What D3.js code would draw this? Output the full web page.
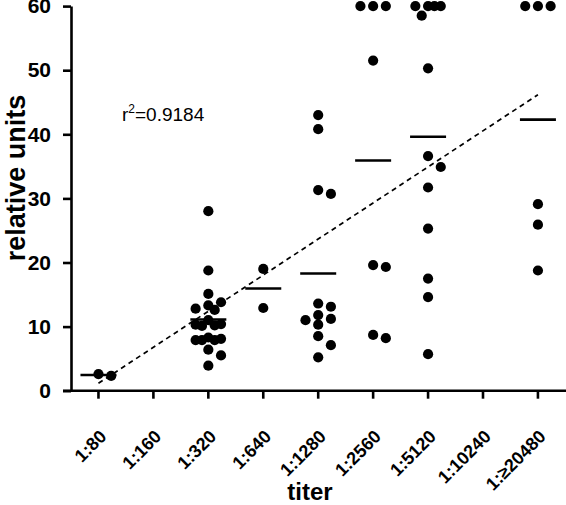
<!DOCTYPE html>
<html>
<head>
<meta charset="utf-8">
<script src="https://cdn.jsdelivr.net/npm/d3@7"></script>
<style>
  html, body { margin: 0; padding: 0; background: #fff; }
  svg { display: block; }
  text { font-family: "Liberation Sans", Arial, sans-serif; fill: #000; }
</style>
</head>
<body>
<svg id="chart" width="566" height="505"></svg>
<script>
// ---- data ----
const categories = ["1:80", "1:160", "1:320", "1:640", "1:1280", "1:2560", "1:5120", "1:10240", "1:\u226520480"];
const t80    = [2.6, 2.3];
const t160   = [];
const t320   = [28.0, 18.75, 15.1, 13.8, 13.3, 12.8, 12.6, 11.0, 10.4, 10.3, 10.2, 10.1, 8.3, 8.1, 7.9, 7.9, 7.9, 6.4, 5.5, 3.9];
const t640   = [19.0, 12.9];
const t1280  = [43.0, 40.8, 31.3, 30.7, 13.6, 13.1, 11.8, 11.2, 11.0, 10.3, 8.5, 7.1, 5.2];
const t2560  = [60, 60, 60, 51.5, 19.6, 19.3, 8.7, 8.2];
const t5120  = [60, 60, 60, 60, 58.5, 50.3, 36.6, 34.9, 31.7, 25.3, 17.5, 14.6, 5.7];
const t10240 = [];
const t20480 = [60, 60, 60, 29.1, 25.9, 18.75];
const groups = [t80, t160, t320, t640, t1280, t2560, t5120, t10240, t20480];
const yTicks = [0, 10, 20, 30, 40, 50, 60];
const rSquaredLabel = "0.9184";

// ---- layout ----
const svg = d3.select("#chart");
const x = d3.scaleBand().domain(categories).range([71, 565.4]);
const y = d3.scaleLinear().domain([0, 60]).range([390.7, 6.1]);
const cx = c => x(c) + x.bandwidth() / 2;
const black = "#000";
const FONT = "Liberation Sans, Arial, sans-serif";

// regression on group means vs category index
const meanPts = groups.map((g, i) => g.length ? { i, m: d3.mean(g) } : null).filter(d => d);
const mx = d3.mean(meanPts, d => d.i), my = d3.mean(meanPts, d => d.m);
const sxy = d3.sum(meanPts, d => (d.i - mx) * (d.m - my));
const sxx = d3.sum(meanPts, d => (d.i - mx) ** 2);
const slope = sxy / sxx, intercept = my - slope * mx;
const iMin = d3.min(meanPts, d => d.i), iMax = d3.max(meanPts, d => d.i);

svg.append("line")
  .attr("x1", cx(categories[iMin])).attr("y1", y(intercept + slope * iMin))
  .attr("x2", cx(categories[iMax])).attr("y2", y(intercept + slope * iMax))
  .attr("stroke", black).attr("stroke-width", 1.7).attr("stroke-dasharray", "5,4");

// beeswarm placement
const w = 12.7, D = 11.5, rDot = 5.1;
const cands = [0, w, -w, w / 2, -w / 2];
const dots = [];
groups.forEach((g, gi) => {
  const placed = [];
  g.forEach(v => {
    const py = y(v);
    let best = null, bestD = -1;
    for (const c of cands) {
      let md = Infinity;
      for (const p of placed) md = Math.min(md, Math.hypot(p.dx - c, p.py - py));
      if (md >= D) { best = c; bestD = md; break; }
      if (md > bestD) { bestD = md; best = c; }
    }
    placed.push({ dx: best, py });
    dots.push({ cat: categories[gi], dx: best, v });
  });
});

// mean lines
svg.append("g").selectAll("line")
  .data(groups.map((g, i) => ({ c: categories[i], g })).filter(d => d.g.length))
  .join("line")
  .attr("x1", d => cx(d.c) - 18).attr("x2", d => cx(d.c) + 18)
  .attr("y1", d => y(d3.mean(d.g))).attr("y2", d => y(d3.mean(d.g)))
  .attr("stroke", black).attr("stroke-width", 2.6);

// dots
svg.append("g").selectAll("circle").data(dots).join("circle")
  .attr("cx", d => cx(d.cat) + d.dx).attr("cy", d => y(d.v)).attr("r", rDot).attr("fill", black);

// y axis
const yAxis = d3.axisLeft(y).tickValues(yTicks).tickSize(8).tickPadding(12).tickSizeOuter(0);
const gy = svg.append("g").attr("transform", "translate(71,0)").call(yAxis);
gy.select(".domain").attr("stroke", black).attr("stroke-width", 2.6);
gy.selectAll(".tick line").attr("stroke", black).attr("stroke-width", 2.6);
gy.selectAll(".tick text").attr("font-size", 21).attr("font-weight", "bold")
  .attr("font-family", FONT).attr("fill", black);

// x axis
const xAxis = d3.axisBottom(x).tickSize(8).tickSizeOuter(0).tickFormat(d => d);
const gx = svg.append("g").attr("transform", "translate(0,390.7)").call(xAxis);
gx.select(".domain").attr("d", "M63,0H566").attr("stroke", black).attr("stroke-width", 2.6);
gx.selectAll(".tick line").attr("stroke", black).attr("stroke-width", 2.6);
gx.selectAll(".tick text")
  .attr("font-size", 18).attr("font-weight", "bold")
  .attr("font-family", FONT).attr("fill", black)
  .attr("text-anchor", "end")
  .attr("dy", null)
  .attr("x", 0)
  .attr("y", 0)
  .attr("transform", "translate(9,47) rotate(-45)");

// axis titles
svg.append("text").attr("x", 310).attr("y", 500).attr("text-anchor", "middle")
  .attr("font-size", 24).attr("font-weight", "bold").text("titer");
svg.append("text").attr("transform", "translate(25,178) rotate(-90)").attr("text-anchor", "middle")
  .attr("font-size", 27).attr("font-weight", "bold").text("relative units");

// r^2 annotation
const rt = svg.append("text").attr("x", 122).attr("y", 121).attr("font-size", 19);
rt.append("tspan").text("r");
rt.append("tspan").attr("font-size", 12).attr("dy", -8).text("2");
rt.append("tspan").attr("dy", 8).text("=" + rSquaredLabel);
</script>
</body>
</html>
